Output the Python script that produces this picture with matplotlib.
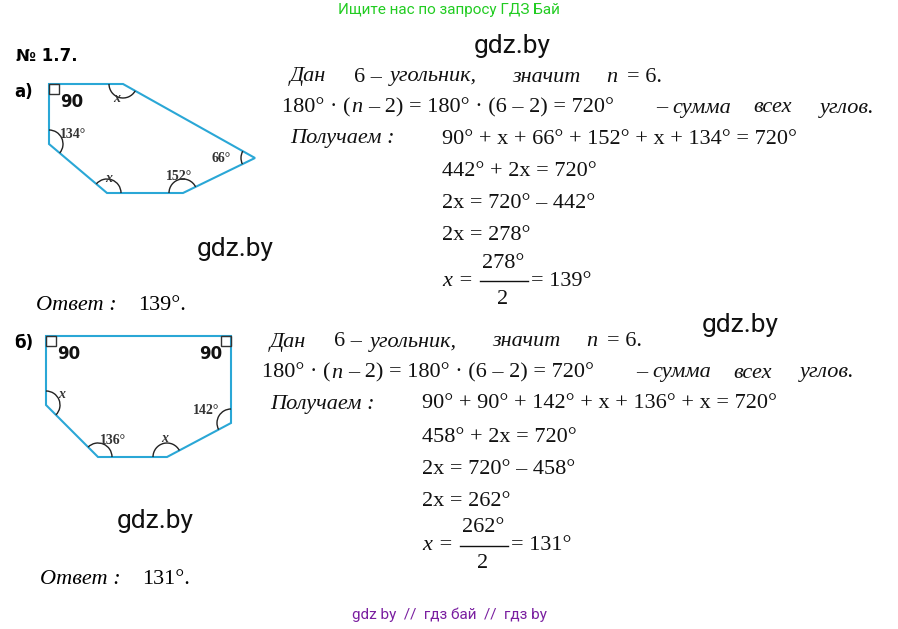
import numpy as np
import matplotlib
matplotlib.use("Agg")
import matplotlib.pyplot as plt
from matplotlib.patches import Polygon, Arc, Rectangle

poly_a = [(49, 84), (123, 84), (255, 158), (183, 193), (107, 193), (49, 144)]
poly_b = [(46, 336), (231, 336), (231, 423), (167, 457), (98, 457), (46, 405)]
blue = "#2aa7d6"

fig = plt.figure(figsize=(8.98, 6.29), dpi=100)
ax = fig.add_axes([0, 0, 1, 1])
ax.set_xlim(0, 898); ax.set_ylim(629, 0); ax.axis("off")

def draw_poly(pts, arcs, r=14):
    ax.add_patch(Polygon(pts, closed=True, fill=False, ec=blue, lw=1.5))
    n = len(pts)
    for i in arcs:
        p = np.array(pts[i]); a = np.array(pts[i-1]); b = np.array(pts[(i+1) % n])
        ta = np.degrees(np.arctan2(-(a-p)[1], (a-p)[0]))
        tb = np.degrees(np.arctan2(-(b-p)[1], (b-p)[0]))
        t1, t2 = sorted([ta, tb])
        if t2 - t1 > 180:
            t1, t2 = t2, t1 + 360
        ax.add_patch(Arc(p, 2*r, 2*r, theta1=-t2, theta2=-t1, color="#222", lw=1))

draw_poly(poly_a, [1, 2, 3, 4, 5])
ax.add_patch(Rectangle((49, 84), 10, 10, fill=False, ec="#333", lw=1))
draw_poly(poly_b, [3, 4, 5, 2])
ax.add_patch(Rectangle((46, 336), 10, 10, fill=False, ec="#333", lw=1))
ax.add_patch(Rectangle((221, 336), 10, 10, fill=False, ec="#333", lw=1))

serif = "Liberation Serif"
def lbl(x, y, s, size=10, style="normal", weight="bold"):
    ax.text(x, y, s, fontsize=size, family=serif, style=style, weight=weight, va="center", ha="left", color="#333")

def big(x, y, s):
    ax.text(x, y, s, fontsize=12, weight="bold", va="center", family="DejaVu Sans", color="#111")

big(60, 102, "90")
lbl(113, 98, "x", 10, "italic")
lbl(60, 135, "134°"); lbl(211, 158, "66°"); lbl(105, 179, "x", 10, "italic"); lbl(166, 177, "152°")
big(57, 354, "90"); big(199, 354, "90")
lbl(58, 395, "x", 10, "italic"); lbl(193, 410, "142°"); lbl(100, 440, "136°"); lbl(161, 439, "x", 10, "italic")

ax.text(16, 56, "№ 1.7.", fontsize=12, weight="bold", va="center", family="DejaVu Sans")
ax.text(14, 92, "а)", fontsize=12, weight="bold", va="center", family="DejaVu Sans")
ax.text(14, 343, "б)", fontsize=12, weight="bold", va="center", family="DejaVu Sans")

ax.text(449, 10, "Ищите нас по запросу ГДЗ Бай", fontsize=11, color="#22cc22", ha="center", va="center", family="Roboto")
ax.text(449, 615, "gdz by  //  гдз бай  //  гдз by", fontsize=11, color="#7a1fa0", ha="center", va="center", family="Roboto")
for (x, y) in [(512, 46), (235, 249), (740, 325), (155, 521)]:
    ax.text(x, y, "gdz.by", fontsize=19, ha="center", va="center", family="Roboto", color="#111")

FS = 16
def t(x, y, s, style="normal", ha="left"):
    ax.text(x, y, s, fontsize=FS, family=serif, style=style, va="center", ha=ha, color="#111")

def block(x0, y0, nums, ans):
    t(x0, y0, "Дан", "italic"); t(x0+64, y0, "6 –"); t(x0+100, y0, "угольник,", "italic")
    t(x0+222, y0, "значит", "italic"); t(x0+316, y0, "n", "italic"); t(x0+337, y0, "= 6.")
    y1 = y0 + 31
    t(x0-8, y1, "180° · ("); t(x0+61, y1, "n", "italic"); t(x0+78, y1, "– 2) = 180° · (6 – 2) = 720°")
    t(x0+366, y1, "–"); t(x0+382, y1, "сумма", "italic"); t(x0+463, y1, "всех", "italic"); t(x0+530, y1, "углов.", "italic")
    y2 = y1 + 31
    t(x0, y2, "Получаем :", "italic")
    xs = x0 + 152
    t(xs, y2, nums[0])
    t(xs, y2+33, nums[1]); t(xs, y2+65, nums[2]); t(xs, y2+97, nums[3])
    yf = y2 + 142
    t(xs, yf, "x", "italic"); t(xs+12, yf, " =")
    t(xs+61, yf-18, nums[4], ha="center"); t(xs+61, yf+18, "2", ha="center")
    ax.plot([xs+38, xs+86], [yf, yf], color="#111", lw=1)
    t(xs+89, yf, "= " + ans)

block(290, 77, ["90° + x + 66° + 152° + x + 134° = 720°", "442° + 2x = 720°", "2x = 720° – 442°", "2x = 278°", "278°"], "139°")
block(270, 342, ["90° + 90° + 142° + x + 136° + x = 720°", "458° + 2x = 720°", "2x = 720° – 458°", "2x = 262°", "262°"], "131°")

ax.text(36, 305, "Ответ :", fontsize=FS, family=serif, style="italic", va="center")
ax.text(138, 305, "139°.", fontsize=FS, family=serif, va="center")
ax.text(40, 579, "Ответ :", fontsize=FS, family=serif, style="italic", va="center")
ax.text(142, 579, "131°.", fontsize=FS, family=serif, va="center")

fig.savefig("out.png", dpi=100, facecolor="white")
